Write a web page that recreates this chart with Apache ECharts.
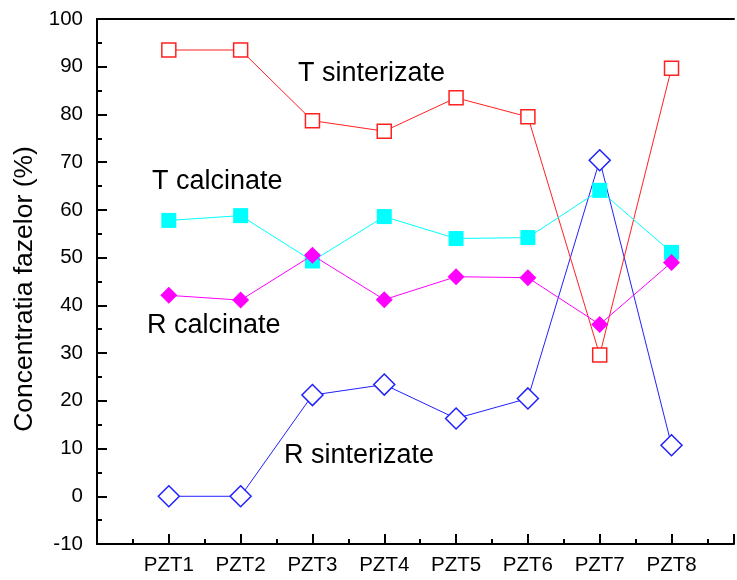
<!DOCTYPE html>
<html><head><meta charset="utf-8">
<script src="https://cdn.jsdelivr.net/npm/echarts@6/dist/echarts.min.js"></script>
<style>html,body{margin:0;padding:0;background:#fff}#c{width:737px;height:580px}</style>
</head><body><div id="c"></div>
<script>
const categories = ['PZT1','PZT2','PZT3','PZT4','PZT5','PZT6','PZT7','PZT8'];
const tSinterizate = [93.5, 93.5, 78.7, 76.5, 83.5, 79.5, 29.6, 89.7];
const tCalcinate   = [57.8, 58.8, 49.3, 58.6, 54.0, 54.2, 64.1, 51.1];
const rCalcinate   = [42.1, 41.1, 50.5, 41.2, 46.0, 45.8, 36.0, 49.0];
const rSinterizate = [0, 0, 21.2, 23.4, 16.3, 20.5, 70.4, 10.7];
const yTicks = [-10, 0, 10, 20, 30, 40, 50, 60, 70, 80, 90, 100];

const font = 'Liberation Sans, Arial, sans-serif';
const pts = arr => arr.map((v, i) => [i + 1, v]);

const chart = echarts.init(document.getElementById('c'));
chart.setOption({
  animation: false,
  backgroundColor: '#fff',
  grid: {left: 97, top: 19, right: 0, bottom: 36, containLabel: false},
  xAxis: [{
    type: 'value', min: 0, max: 8.87, interval: 1,
    axisLine: {onZero: false, lineStyle: {color: '#000', width: 2}},
    axisTick: {inside: true, length: 10, lineStyle: {color: '#000', width: 2}},
    minorTick: {show: true, splitNumber: 2, length: 5, lineStyle: {color: '#000', width: 2}},
    splitLine: {show: false}, minorSplitLine: {show: false},
    axisLabel: {color: '#000', fontFamily: font, fontSize: 20.5, margin: 11,
      formatter: v => (v >= 1 && v <= categories.length && Number.isInteger(v)) ? categories[v - 1] : ''}
  }, {
    type: 'value', min: 0, max: 8.87, position: 'top',
    axisLine: {show: true, onZero: false, lineStyle: {color: '#000', width: 2}},
    axisTick: {show: false}, axisLabel: {show: false}, splitLine: {show: false}
  }],
  yAxis: {
    type: 'value', min: -10, max: 100, interval: 10,
    axisLine: {show: true, onZero: false, lineStyle: {color: '#000', width: 2}},
    axisTick: {inside: true, length: 10, lineStyle: {color: '#000', width: 2}},
    minorTick: {show: true, splitNumber: 2, length: 5, lineStyle: {color: '#000', width: 2}},
    splitLine: {show: false}, minorSplitLine: {show: false},
    axisLabel: {color: '#000', fontFamily: font, fontSize: 20.5, margin: 14,
      formatter: v => yTicks.includes(v) ? String(v) : ''}
  },
  series: [
    {name: 'T sinterizate', type: 'line', data: pts(tSinterizate), symbol: 'rect', symbolSize: 14,
      lineStyle: {color: '#ff2020', width: 1}, itemStyle: {color: '#fff', borderColor: '#ff2020', borderWidth: 1.5}, z: 3},
    {name: 'T calcinate', type: 'line', data: pts(tCalcinate), symbol: 'rect', symbolSize: 15,
      lineStyle: {color: '#00ffff', width: 1}, itemStyle: {color: '#00ffff', borderColor: '#00ffff', borderWidth: 0}, z: 4},
    {name: 'R calcinate', type: 'line', data: pts(rCalcinate), symbol: 'diamond', symbolSize: 17,
      lineStyle: {color: '#ff00ff', width: 1}, itemStyle: {color: '#ff00ff', borderColor: '#ff00ff', borderWidth: 0}, z: 5},
    {name: 'R sinterizate', type: 'line', data: pts(rSinterizate), symbol: 'diamond', symbolSize: 21,
      lineStyle: {color: '#2020ff', width: 1}, itemStyle: {color: '#fff', borderColor: '#2020ff', borderWidth: 1.5}, z: 2}
  ],
  graphic: [
    {type: 'text', x: 25, y: 289, rotation: Math.PI / 2,
      style: {text: 'Concentratia fazelor (%)', font: '26.5px ' + font, fill: '#000', align: 'center', verticalAlign: 'middle'}},
    {type: 'text', x: 298, y: 74, style: {text: 'T sinterizate', font: '27px ' + font, fill: '#000', verticalAlign: 'middle'}},
    {type: 'text', x: 152, y: 182, style: {text: 'T calcinate', font: '27px ' + font, fill: '#000', verticalAlign: 'middle'}},
    {type: 'text', x: 147, y: 326, style: {text: 'R calcinate', font: '27px ' + font, fill: '#000', verticalAlign: 'middle'}},
    {type: 'text', x: 284, y: 456, style: {text: 'R sinterizate', font: '27px ' + font, fill: '#000', verticalAlign: 'middle'}}
  ]
});
</script></body></html>
